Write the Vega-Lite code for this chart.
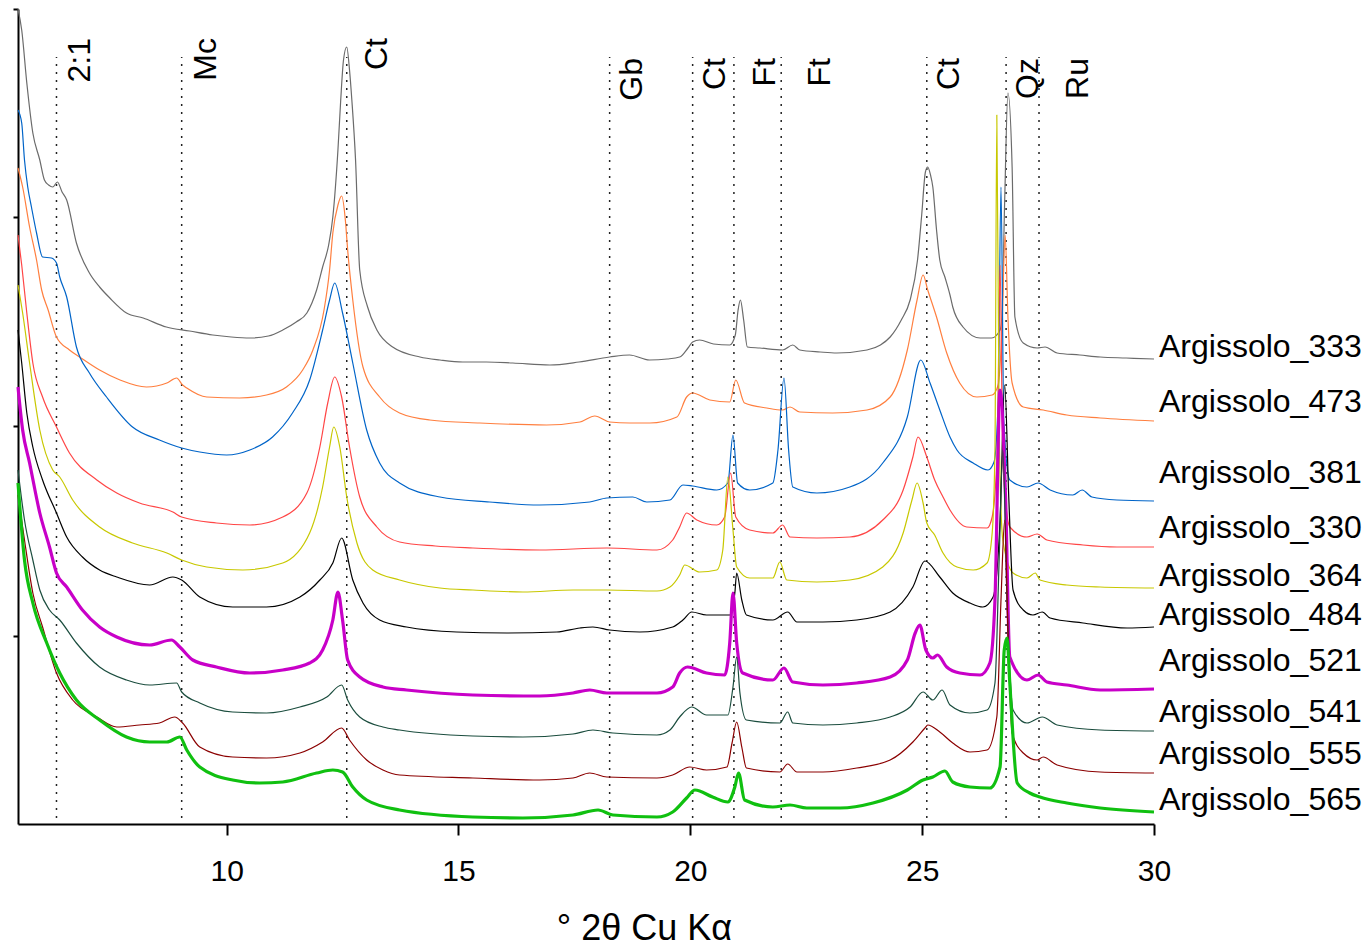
{
"$schema": "https://vega.github.io/schema/vega-lite/v6.json",
"width": 1136, "height": 815,
"autosize": {"type": "none"},
"padding": {"left": 18, "top": 9, "right": 216, "bottom": 124},
"background": "white",
"config": {"view": {"stroke": null}, "font": "Liberation Sans",
  "axis": {"grid": false, "domainColor": "black", "domainWidth": 2, "tickColor": "black", "tickWidth": 2, "labelColor": "black", "labelFont": "Liberation Sans", "titleFont": "Liberation Sans", "titleColor": "black", "titleFontWeight": "normal"},
  "text": {"font": "Liberation Sans", "color": "black"}},
"datasets": {
"peaks": [
{"label":"2:1","x":6.33},{"label":"Mc","x":9.03},{"label":"Ct","x":12.59},{"label":"Gb","x":18.26},{"label":"Ct","x":20.05},{"label":"Ft","x":20.94},{"label":"Ft","x":21.96},{"label":"Ct","x":25.1},{"label":"Qz","x":26.81},{"label":"Ru","x":27.52}
],
"xrd": [
{"s":"Argissolo_333","x":5.5,"y":815},{"s":"Argissolo_333","x":5.58,"y":794},{"s":"Argissolo_333","x":5.69,"y":741},{"s":"Argissolo_333","x":5.82,"y":691},{"s":"Argissolo_333","x":5.97,"y":664},{"s":"Argissolo_333","x":6.07,"y":644},{"s":"Argissolo_333","x":6.16,"y":639},{"s":"Argissolo_333","x":6.25,"y":637},{"s":"Argissolo_333","x":6.35,"y":642},{"s":"Argissolo_333","x":6.45,"y":632},{"s":"Argissolo_333","x":6.55,"y":624},{"s":"Argissolo_333","x":6.76,"y":581},{"s":"Argissolo_333","x":7.04,"y":551},{"s":"Argissolo_333","x":7.26,"y":537},{"s":"Argissolo_333","x":7.48,"y":526},{"s":"Argissolo_333","x":7.84,"y":511},{"s":"Argissolo_333","x":8.2,"y":506},{"s":"Argissolo_333","x":8.7,"y":497},{"s":"Argissolo_333","x":9.2,"y":493},{"s":"Argissolo_333","x":9.7,"y":489},{"s":"Argissolo_333","x":10.1,"y":487},{"s":"Argissolo_333","x":10.5,"y":486},{"s":"Argissolo_333","x":10.9,"y":488},{"s":"Argissolo_333","x":11.21,"y":494},{"s":"Argissolo_333","x":11.5,"y":502},{"s":"Argissolo_333","x":11.73,"y":511},{"s":"Argissolo_333","x":11.94,"y":534},{"s":"Argissolo_333","x":12.07,"y":557},{"s":"Argissolo_333","x":12.2,"y":579},{"s":"Argissolo_333","x":12.29,"y":607},{"s":"Argissolo_333","x":12.4,"y":674},{"s":"Argissolo_333","x":12.46,"y":724},{"s":"Argissolo_333","x":12.52,"y":764},{"s":"Argissolo_333","x":12.59,"y":777},{"s":"Argissolo_333","x":12.65,"y":754},{"s":"Argissolo_333","x":12.7,"y":724},{"s":"Argissolo_333","x":12.78,"y":664},{"s":"Argissolo_333","x":12.87,"y":554},{"s":"Argissolo_333","x":13.04,"y":517},{"s":"Argissolo_333","x":13.24,"y":494},{"s":"Argissolo_333","x":13.58,"y":477},{"s":"Argissolo_333","x":14.17,"y":467},{"s":"Argissolo_333","x":14.6,"y":464},{"s":"Argissolo_333","x":15.09,"y":462},{"s":"Argissolo_333","x":15.6,"y":462},{"s":"Argissolo_333","x":16.17,"y":461},{"s":"Argissolo_333","x":16.97,"y":459},{"s":"Argissolo_333","x":17.6,"y":462},{"s":"Argissolo_333","x":18.26,"y":467},{"s":"Argissolo_333","x":18.69,"y":469},{"s":"Argissolo_333","x":19.12,"y":464},{"s":"Argissolo_333","x":19.5,"y":465},{"s":"Argissolo_333","x":19.77,"y":467},{"s":"Argissolo_333","x":19.95,"y":476},{"s":"Argissolo_333","x":20.05,"y":482},{"s":"Argissolo_333","x":20.2,"y":484},{"s":"Argissolo_333","x":20.5,"y":480},{"s":"Argissolo_333","x":20.85,"y":479},{"s":"Argissolo_333","x":20.97,"y":489},{"s":"Argissolo_333","x":21.03,"y":514},{"s":"Argissolo_333","x":21.08,"y":524},{"s":"Argissolo_333","x":21.15,"y":504},{"s":"Argissolo_333","x":21.23,"y":477},{"s":"Argissolo_333","x":21.5,"y":476},{"s":"Argissolo_333","x":21.99,"y":474},{"s":"Argissolo_333","x":22.21,"y":479},{"s":"Argissolo_333","x":22.36,"y":474},{"s":"Argissolo_333","x":22.8,"y":472},{"s":"Argissolo_333","x":23.16,"y":471},{"s":"Argissolo_333","x":23.81,"y":474},{"s":"Argissolo_333","x":24.1,"y":479},{"s":"Argissolo_333","x":24.31,"y":487},{"s":"Argissolo_333","x":24.55,"y":504},{"s":"Argissolo_333","x":24.74,"y":524},{"s":"Argissolo_333","x":24.9,"y":564},{"s":"Argissolo_333","x":24.99,"y":609},{"s":"Argissolo_333","x":25.07,"y":652},{"s":"Argissolo_333","x":25.12,"y":657},{"s":"Argissolo_333","x":25.18,"y":649},{"s":"Argissolo_333","x":25.23,"y":637},{"s":"Argissolo_333","x":25.31,"y":594},{"s":"Argissolo_333","x":25.38,"y":564},{"s":"Argissolo_333","x":25.49,"y":547},{"s":"Argissolo_333","x":25.6,"y":529},{"s":"Argissolo_333","x":25.66,"y":517},{"s":"Argissolo_333","x":25.88,"y":497},{"s":"Argissolo_333","x":26.25,"y":486},{"s":"Argissolo_333","x":26.5,"y":486},{"s":"Argissolo_333","x":26.68,"y":494},{"s":"Argissolo_333","x":26.72,"y":507},{"s":"Argissolo_333","x":26.78,"y":624},{"s":"Argissolo_333","x":26.85,"y":731},{"s":"Argissolo_333","x":26.94,"y":657},{"s":"Argissolo_333","x":27.0,"y":507},{"s":"Argissolo_333","x":27.18,"y":481},{"s":"Argissolo_333","x":27.48,"y":476},{"s":"Argissolo_333","x":27.65,"y":477},{"s":"Argissolo_333","x":27.91,"y":471},{"s":"Argissolo_333","x":28.4,"y":469},{"s":"Argissolo_333","x":28.84,"y":467},{"s":"Argissolo_333","x":29.4,"y":466},{"s":"Argissolo_333","x":30,"y":465},
{"s":"Argissolo_473","x":5.5,"y":656},{"s":"Argissolo_473","x":5.6,"y":637},{"s":"Argissolo_473","x":5.75,"y":597},{"s":"Argissolo_473","x":5.9,"y":564},{"s":"Argissolo_473","x":6.01,"y":534},{"s":"Argissolo_473","x":6.15,"y":514},{"s":"Argissolo_473","x":6.33,"y":487},{"s":"Argissolo_473","x":6.61,"y":474},{"s":"Argissolo_473","x":6.83,"y":467},{"s":"Argissolo_473","x":7.26,"y":454},{"s":"Argissolo_473","x":7.7,"y":444},{"s":"Argissolo_473","x":8.27,"y":437},{"s":"Argissolo_473","x":8.71,"y":441},{"s":"Argissolo_473","x":8.92,"y":446},{"s":"Argissolo_473","x":9.05,"y":439},{"s":"Argissolo_473","x":9.14,"y":436},{"s":"Argissolo_473","x":9.57,"y":427},{"s":"Argissolo_473","x":10.28,"y":426},{"s":"Argissolo_473","x":10.86,"y":429},{"s":"Argissolo_473","x":11.29,"y":437},{"s":"Argissolo_473","x":11.64,"y":454},{"s":"Argissolo_473","x":11.86,"y":474},{"s":"Argissolo_473","x":12.1,"y":514},{"s":"Argissolo_473","x":12.22,"y":554},{"s":"Argissolo_473","x":12.29,"y":591},{"s":"Argissolo_473","x":12.4,"y":619},{"s":"Argissolo_473","x":12.48,"y":628},{"s":"Argissolo_473","x":12.56,"y":604},{"s":"Argissolo_473","x":12.61,"y":574},{"s":"Argissolo_473","x":12.72,"y":524},{"s":"Argissolo_473","x":12.94,"y":457},{"s":"Argissolo_473","x":13.3,"y":427},{"s":"Argissolo_473","x":13.73,"y":411},{"s":"Argissolo_473","x":14.38,"y":404},{"s":"Argissolo_473","x":15.46,"y":401},{"s":"Argissolo_473","x":16.9,"y":399},{"s":"Argissolo_473","x":17.62,"y":402},{"s":"Argissolo_473","x":17.94,"y":408},{"s":"Argissolo_473","x":18.26,"y":402},{"s":"Argissolo_473","x":18.69,"y":401},{"s":"Argissolo_473","x":19.13,"y":401},{"s":"Argissolo_473","x":19.71,"y":407},{"s":"Argissolo_473","x":19.92,"y":427},{"s":"Argissolo_473","x":20.05,"y":431},{"s":"Argissolo_473","x":20.42,"y":424},{"s":"Argissolo_473","x":20.85,"y":422},{"s":"Argissolo_473","x":20.98,"y":444},{"s":"Argissolo_473","x":21.17,"y":421},{"s":"Argissolo_473","x":21.65,"y":416},{"s":"Argissolo_473","x":21.99,"y":414},{"s":"Argissolo_473","x":22.15,"y":417},{"s":"Argissolo_473","x":22.36,"y":412},{"s":"Argissolo_473","x":23.07,"y":411},{"s":"Argissolo_473","x":23.81,"y":414},{"s":"Argissolo_473","x":24.31,"y":427},{"s":"Argissolo_473","x":24.68,"y":474},{"s":"Argissolo_473","x":24.89,"y":524},{"s":"Argissolo_473","x":25.02,"y":549},{"s":"Argissolo_473","x":25.12,"y":534},{"s":"Argissolo_473","x":25.31,"y":507},{"s":"Argissolo_473","x":25.53,"y":471},{"s":"Argissolo_473","x":25.81,"y":441},{"s":"Argissolo_473","x":26.18,"y":427},{"s":"Argissolo_473","x":26.51,"y":429},{"s":"Argissolo_473","x":26.64,"y":439},{"s":"Argissolo_473","x":26.72,"y":494},{"s":"Argissolo_473","x":26.79,"y":589},{"s":"Argissolo_473","x":26.85,"y":507},{"s":"Argissolo_473","x":26.94,"y":441},{"s":"Argissolo_473","x":27.18,"y":417},{"s":"Argissolo_473","x":27.61,"y":414},{"s":"Argissolo_473","x":28.12,"y":409},{"s":"Argissolo_473","x":28.84,"y":406},{"s":"Argissolo_473","x":30,"y":403},
{"s":"Argissolo_381","x":5.5,"y":714},{"s":"Argissolo_381","x":5.58,"y":701},{"s":"Argissolo_381","x":5.64,"y":664},{"s":"Argissolo_381","x":5.71,"y":637},{"s":"Argissolo_381","x":5.79,"y":617},{"s":"Argissolo_381","x":5.9,"y":591},{"s":"Argissolo_381","x":6.03,"y":567},{"s":"Argissolo_381","x":6.22,"y":566},{"s":"Argissolo_381","x":6.33,"y":561},{"s":"Argissolo_381","x":6.4,"y":547},{"s":"Argissolo_381","x":6.55,"y":527},{"s":"Argissolo_381","x":6.76,"y":477},{"s":"Argissolo_381","x":7.04,"y":451},{"s":"Argissolo_381","x":7.41,"y":427},{"s":"Argissolo_381","x":7.97,"y":397},{"s":"Argissolo_381","x":8.55,"y":384},{"s":"Argissolo_381","x":9.03,"y":376},{"s":"Argissolo_381","x":9.42,"y":372},{"s":"Argissolo_381","x":10.0,"y":369},{"s":"Argissolo_381","x":10.5,"y":374},{"s":"Argissolo_381","x":10.99,"y":387},{"s":"Argissolo_381","x":11.42,"y":411},{"s":"Argissolo_381","x":11.79,"y":444},{"s":"Argissolo_381","x":12.07,"y":494},{"s":"Argissolo_381","x":12.22,"y":524},{"s":"Argissolo_381","x":12.33,"y":541},{"s":"Argissolo_381","x":12.5,"y":511},{"s":"Argissolo_381","x":12.72,"y":461},{"s":"Argissolo_381","x":13.02,"y":394},{"s":"Argissolo_381","x":13.3,"y":361},{"s":"Argissolo_381","x":13.73,"y":341},{"s":"Argissolo_381","x":14.6,"y":327},{"s":"Argissolo_381","x":15.67,"y":322},{"s":"Argissolo_381","x":16.75,"y":319},{"s":"Argissolo_381","x":17.83,"y":322},{"s":"Argissolo_381","x":18.2,"y":326},{"s":"Argissolo_381","x":18.76,"y":327},{"s":"Argissolo_381","x":19.06,"y":322},{"s":"Argissolo_381","x":19.56,"y":324},{"s":"Argissolo_381","x":19.84,"y":339},{"s":"Argissolo_381","x":20.05,"y":338},{"s":"Argissolo_381","x":20.57,"y":334},{"s":"Argissolo_381","x":20.81,"y":341},{"s":"Argissolo_381","x":20.92,"y":389},{"s":"Argissolo_381","x":21.02,"y":341},{"s":"Argissolo_381","x":21.28,"y":334},{"s":"Argissolo_381","x":21.78,"y":341},{"s":"Argissolo_381","x":21.89,"y":374},{"s":"Argissolo_381","x":22.02,"y":446},{"s":"Argissolo_381","x":22.12,"y":374},{"s":"Argissolo_381","x":22.21,"y":337},{"s":"Argissolo_381","x":22.73,"y":331},{"s":"Argissolo_381","x":23.44,"y":337},{"s":"Argissolo_381","x":24.15,"y":361},{"s":"Argissolo_381","x":24.68,"y":407},{"s":"Argissolo_381","x":24.97,"y":464},{"s":"Argissolo_381","x":25.17,"y":441},{"s":"Argissolo_381","x":25.38,"y":414},{"s":"Argissolo_381","x":25.6,"y":387},{"s":"Argissolo_381","x":25.75,"y":374},{"s":"Argissolo_381","x":26.1,"y":361},{"s":"Argissolo_381","x":26.42,"y":354},{"s":"Argissolo_381","x":26.55,"y":362},{"s":"Argissolo_381","x":26.64,"y":424},{"s":"Argissolo_381","x":26.7,"y":637},{"s":"Argissolo_381","x":26.76,"y":404},{"s":"Argissolo_381","x":26.89,"y":344},{"s":"Argissolo_381","x":27.26,"y":337},{"s":"Argissolo_381","x":27.5,"y":341},{"s":"Argissolo_381","x":27.76,"y":334},{"s":"Argissolo_381","x":28.25,"y":329},{"s":"Argissolo_381","x":28.45,"y":334},{"s":"Argissolo_381","x":28.66,"y":327},{"s":"Argissolo_381","x":29.2,"y":324},{"s":"Argissolo_381","x":30,"y":323},
{"s":"Argissolo_330","x":5.5,"y":589},{"s":"Argissolo_330","x":5.58,"y":559},{"s":"Argissolo_330","x":5.69,"y":511},{"s":"Argissolo_330","x":5.82,"y":461},{"s":"Argissolo_330","x":6.03,"y":427},{"s":"Argissolo_330","x":6.33,"y":397},{"s":"Argissolo_330","x":6.61,"y":371},{"s":"Argissolo_330","x":7.2,"y":344},{"s":"Argissolo_330","x":7.63,"y":331},{"s":"Argissolo_330","x":8.12,"y":321},{"s":"Argissolo_330","x":8.84,"y":312},{"s":"Argissolo_330","x":9.03,"y":307},{"s":"Argissolo_330","x":9.78,"y":301},{"s":"Argissolo_330","x":10.5,"y":299},{"s":"Argissolo_330","x":11.21,"y":307},{"s":"Argissolo_330","x":11.73,"y":331},{"s":"Argissolo_330","x":12.01,"y":377},{"s":"Argissolo_330","x":12.18,"y":421},{"s":"Argissolo_330","x":12.33,"y":447},{"s":"Argissolo_330","x":12.48,"y":427},{"s":"Argissolo_330","x":12.65,"y":377},{"s":"Argissolo_330","x":12.87,"y":327},{"s":"Argissolo_330","x":13.24,"y":297},{"s":"Argissolo_330","x":13.73,"y":282},{"s":"Argissolo_330","x":14.5,"y":278},{"s":"Argissolo_330","x":15.31,"y":276},{"s":"Argissolo_330","x":16.75,"y":274},{"s":"Argissolo_330","x":18.2,"y":276},{"s":"Argissolo_330","x":19.28,"y":274},{"s":"Argissolo_330","x":19.62,"y":284},{"s":"Argissolo_330","x":19.77,"y":297},{"s":"Argissolo_330","x":19.92,"y":311},{"s":"Argissolo_330","x":20.14,"y":304},{"s":"Argissolo_330","x":20.57,"y":299},{"s":"Argissolo_330","x":20.74,"y":307},{"s":"Argissolo_330","x":20.87,"y":351},{"s":"Argissolo_330","x":20.98,"y":307},{"s":"Argissolo_330","x":21.28,"y":294},{"s":"Argissolo_330","x":21.78,"y":291},{"s":"Argissolo_330","x":21.99,"y":299},{"s":"Argissolo_330","x":22.15,"y":287},{"s":"Argissolo_330","x":22.73,"y":286},{"s":"Argissolo_330","x":23.44,"y":287},{"s":"Argissolo_330","x":24.15,"y":304},{"s":"Argissolo_330","x":24.59,"y":334},{"s":"Argissolo_330","x":24.8,"y":367},{"s":"Argissolo_330","x":24.91,"y":387},{"s":"Argissolo_330","x":25.1,"y":367},{"s":"Argissolo_330","x":25.27,"y":344},{"s":"Argissolo_330","x":25.45,"y":327},{"s":"Argissolo_330","x":25.6,"y":314},{"s":"Argissolo_330","x":25.96,"y":297},{"s":"Argissolo_330","x":26.4,"y":296},{"s":"Argissolo_330","x":26.51,"y":307},{"s":"Argissolo_330","x":26.62,"y":374},{"s":"Argissolo_330","x":26.68,"y":559},{"s":"Argissolo_330","x":26.74,"y":364},{"s":"Argissolo_330","x":26.89,"y":297},{"s":"Argissolo_330","x":27.26,"y":287},{"s":"Argissolo_330","x":27.48,"y":290},{"s":"Argissolo_330","x":27.69,"y":284},{"s":"Argissolo_330","x":28.47,"y":279},{"s":"Argissolo_330","x":29.2,"y":277},{"s":"Argissolo_330","x":30,"y":277},
{"s":"Argissolo_364","x":5.5,"y":539},{"s":"Argissolo_364","x":5.6,"y":511},{"s":"Argissolo_364","x":5.75,"y":461},{"s":"Argissolo_364","x":5.97,"y":394},{"s":"Argissolo_364","x":6.25,"y":354},{"s":"Argissolo_364","x":6.4,"y":347},{"s":"Argissolo_364","x":6.68,"y":324},{"s":"Argissolo_364","x":7.26,"y":297},{"s":"Argissolo_364","x":7.97,"y":281},{"s":"Argissolo_364","x":8.71,"y":271},{"s":"Argissolo_364","x":9.03,"y":264},{"s":"Argissolo_364","x":9.57,"y":257},{"s":"Argissolo_364","x":10.35,"y":254},{"s":"Argissolo_364","x":11.21,"y":261},{"s":"Argissolo_364","x":11.79,"y":291},{"s":"Argissolo_364","x":12.07,"y":337},{"s":"Argissolo_364","x":12.22,"y":377},{"s":"Argissolo_364","x":12.31,"y":397},{"s":"Argissolo_364","x":12.44,"y":377},{"s":"Argissolo_364","x":12.59,"y":327},{"s":"Argissolo_364","x":12.81,"y":281},{"s":"Argissolo_364","x":13.15,"y":254},{"s":"Argissolo_364","x":13.73,"y":244},{"s":"Argissolo_364","x":14.6,"y":236},{"s":"Argissolo_364","x":15.31,"y":234},{"s":"Argissolo_364","x":16.39,"y":232},{"s":"Argissolo_364","x":17.47,"y":234},{"s":"Argissolo_364","x":18.2,"y":234},{"s":"Argissolo_364","x":19.28,"y":233},{"s":"Argissolo_364","x":19.56,"y":237},{"s":"Argissolo_364","x":19.77,"y":249},{"s":"Argissolo_364","x":19.88,"y":259},{"s":"Argissolo_364","x":20.2,"y":252},{"s":"Argissolo_364","x":20.57,"y":254},{"s":"Argissolo_364","x":20.7,"y":274},{"s":"Argissolo_364","x":20.81,"y":347},{"s":"Argissolo_364","x":20.92,"y":294},{"s":"Argissolo_364","x":21.0,"y":257},{"s":"Argissolo_364","x":21.28,"y":246},{"s":"Argissolo_364","x":21.78,"y":246},{"s":"Argissolo_364","x":21.93,"y":262},{"s":"Argissolo_364","x":22.08,"y":244},{"s":"Argissolo_364","x":22.73,"y":242},{"s":"Argissolo_364","x":23.44,"y":244},{"s":"Argissolo_364","x":24.15,"y":257},{"s":"Argissolo_364","x":24.59,"y":291},{"s":"Argissolo_364","x":24.78,"y":324},{"s":"Argissolo_364","x":24.89,"y":341},{"s":"Argissolo_364","x":25.02,"y":321},{"s":"Argissolo_364","x":25.1,"y":301},{"s":"Argissolo_364","x":25.27,"y":289},{"s":"Argissolo_364","x":25.45,"y":271},{"s":"Argissolo_364","x":25.75,"y":257},{"s":"Argissolo_364","x":26.1,"y":254},{"s":"Argissolo_364","x":26.4,"y":261},{"s":"Argissolo_364","x":26.51,"y":291},{"s":"Argissolo_364","x":26.57,"y":374},{"s":"Argissolo_364","x":26.61,"y":709},{"s":"Argissolo_364","x":26.66,"y":394},{"s":"Argissolo_364","x":26.74,"y":284},{"s":"Argissolo_364","x":26.96,"y":251},{"s":"Argissolo_364","x":27.26,"y":246},{"s":"Argissolo_364","x":27.44,"y":251},{"s":"Argissolo_364","x":27.54,"y":244},{"s":"Argissolo_364","x":28.12,"y":239},{"s":"Argissolo_364","x":28.84,"y":237},{"s":"Argissolo_364","x":30,"y":236},
{"s":"Argissolo_484","x":5.5,"y":494},{"s":"Argissolo_484","x":5.58,"y":461},{"s":"Argissolo_484","x":5.69,"y":411},{"s":"Argissolo_484","x":5.82,"y":377},{"s":"Argissolo_484","x":6.03,"y":344},{"s":"Argissolo_484","x":6.33,"y":311},{"s":"Argissolo_484","x":6.55,"y":287},{"s":"Argissolo_484","x":6.89,"y":267},{"s":"Argissolo_484","x":7.26,"y":254},{"s":"Argissolo_484","x":7.63,"y":247},{"s":"Argissolo_484","x":8.34,"y":239},{"s":"Argissolo_484","x":8.84,"y":247},{"s":"Argissolo_484","x":9.03,"y":244},{"s":"Argissolo_484","x":9.42,"y":227},{"s":"Argissolo_484","x":10.13,"y":217},{"s":"Argissolo_484","x":10.86,"y":217},{"s":"Argissolo_484","x":11.58,"y":227},{"s":"Argissolo_484","x":12.01,"y":244},{"s":"Argissolo_484","x":12.29,"y":261},{"s":"Argissolo_484","x":12.48,"y":286},{"s":"Argissolo_484","x":12.72,"y":244},{"s":"Argissolo_484","x":12.94,"y":221},{"s":"Argissolo_484","x":13.3,"y":204},{"s":"Argissolo_484","x":13.88,"y":197},{"s":"Argissolo_484","x":14.96,"y":192},{"s":"Argissolo_484","x":16.04,"y":191},{"s":"Argissolo_484","x":17.12,"y":192},{"s":"Argissolo_484","x":17.62,"y":196},{"s":"Argissolo_484","x":17.9,"y":197},{"s":"Argissolo_484","x":18.26,"y":194},{"s":"Argissolo_484","x":18.91,"y":192},{"s":"Argissolo_484","x":19.62,"y":197},{"s":"Argissolo_484","x":19.84,"y":204},{"s":"Argissolo_484","x":20.03,"y":212},{"s":"Argissolo_484","x":20.35,"y":209},{"s":"Argissolo_484","x":20.85,"y":209},{"s":"Argissolo_484","x":20.96,"y":231},{"s":"Argissolo_484","x":21.0,"y":251},{"s":"Argissolo_484","x":21.11,"y":224},{"s":"Argissolo_484","x":21.21,"y":209},{"s":"Argissolo_484","x":21.78,"y":204},{"s":"Argissolo_484","x":22.1,"y":212},{"s":"Argissolo_484","x":22.3,"y":202},{"s":"Argissolo_484","x":22.86,"y":202},{"s":"Argissolo_484","x":23.59,"y":204},{"s":"Argissolo_484","x":24.31,"y":212},{"s":"Argissolo_484","x":24.8,"y":237},{"s":"Argissolo_484","x":25.06,"y":263},{"s":"Argissolo_484","x":25.38,"y":247},{"s":"Argissolo_484","x":25.66,"y":231},{"s":"Argissolo_484","x":26.03,"y":221},{"s":"Argissolo_484","x":26.31,"y":217},{"s":"Argissolo_484","x":26.53,"y":227},{"s":"Argissolo_484","x":26.68,"y":304},{"s":"Argissolo_484","x":26.78,"y":439},{"s":"Argissolo_484","x":26.87,"y":324},{"s":"Argissolo_484","x":26.96,"y":234},{"s":"Argissolo_484","x":27.18,"y":214},{"s":"Argissolo_484","x":27.39,"y":209},{"s":"Argissolo_484","x":27.59,"y":212},{"s":"Argissolo_484","x":27.76,"y":206},{"s":"Argissolo_484","x":28.47,"y":201},{"s":"Argissolo_484","x":29.42,"y":196},{"s":"Argissolo_484","x":30,"y":197},
{"s":"Argissolo_521","x":5.5,"y":437},{"s":"Argissolo_521","x":5.6,"y":394},{"s":"Argissolo_521","x":5.75,"y":361},{"s":"Argissolo_521","x":5.97,"y":311},{"s":"Argissolo_521","x":6.18,"y":277},{"s":"Argissolo_521","x":6.33,"y":251},{"s":"Argissolo_521","x":6.55,"y":237},{"s":"Argissolo_521","x":6.89,"y":214},{"s":"Argissolo_521","x":7.26,"y":197},{"s":"Argissolo_521","x":7.63,"y":187},{"s":"Argissolo_521","x":8.34,"y":179},{"s":"Argissolo_521","x":8.81,"y":184},{"s":"Argissolo_521","x":8.99,"y":177},{"s":"Argissolo_521","x":9.27,"y":164},{"s":"Argissolo_521","x":9.78,"y":157},{"s":"Argissolo_521","x":10.5,"y":151},{"s":"Argissolo_521","x":11.21,"y":154},{"s":"Argissolo_521","x":11.79,"y":161},{"s":"Argissolo_521","x":12.07,"y":174},{"s":"Argissolo_521","x":12.29,"y":204},{"s":"Argissolo_521","x":12.4,"y":232},{"s":"Argissolo_521","x":12.5,"y":204},{"s":"Argissolo_521","x":12.61,"y":164},{"s":"Argissolo_521","x":12.87,"y":147},{"s":"Argissolo_521","x":13.37,"y":137},{"s":"Argissolo_521","x":13.88,"y":134},{"s":"Argissolo_521","x":15.31,"y":129},{"s":"Argissolo_521","x":16.75,"y":128},{"s":"Argissolo_521","x":17.47,"y":131},{"s":"Argissolo_521","x":17.83,"y":134},{"s":"Argissolo_521","x":18.2,"y":131},{"s":"Argissolo_521","x":19.28,"y":131},{"s":"Argissolo_521","x":19.62,"y":137},{"s":"Argissolo_521","x":19.77,"y":151},{"s":"Argissolo_521","x":19.94,"y":157},{"s":"Argissolo_521","x":20.35,"y":151},{"s":"Argissolo_521","x":20.74,"y":149},{"s":"Argissolo_521","x":20.85,"y":181},{"s":"Argissolo_521","x":20.92,"y":231},{"s":"Argissolo_521","x":21.0,"y":181},{"s":"Argissolo_521","x":21.13,"y":151},{"s":"Argissolo_521","x":21.78,"y":144},{"s":"Argissolo_521","x":22.02,"y":156},{"s":"Argissolo_521","x":22.21,"y":142},{"s":"Argissolo_521","x":22.86,"y":139},{"s":"Argissolo_521","x":23.59,"y":141},{"s":"Argissolo_521","x":24.31,"y":147},{"s":"Argissolo_521","x":24.68,"y":164},{"s":"Argissolo_521","x":24.85,"y":191},{"s":"Argissolo_521","x":24.95,"y":199},{"s":"Argissolo_521","x":25.08,"y":174},{"s":"Argissolo_521","x":25.23,"y":166},{"s":"Argissolo_521","x":25.33,"y":169},{"s":"Argissolo_521","x":25.53,"y":157},{"s":"Argissolo_521","x":25.81,"y":151},{"s":"Argissolo_521","x":26.25,"y":149},{"s":"Argissolo_521","x":26.46,"y":161},{"s":"Argissolo_521","x":26.57,"y":224},{"s":"Argissolo_521","x":26.68,"y":434},{"s":"Argissolo_521","x":26.8,"y":324},{"s":"Argissolo_521","x":26.89,"y":167},{"s":"Argissolo_521","x":27.26,"y":144},{"s":"Argissolo_521","x":27.5,"y":149},{"s":"Argissolo_521","x":27.69,"y":142},{"s":"Argissolo_521","x":28.12,"y":139},{"s":"Argissolo_521","x":28.84,"y":134},{"s":"Argissolo_521","x":30,"y":135},
{"s":"Argissolo_541","x":5.5,"y":354},{"s":"Argissolo_541","x":5.64,"y":304},{"s":"Argissolo_541","x":5.82,"y":264},{"s":"Argissolo_541","x":5.97,"y":234},{"s":"Argissolo_541","x":6.18,"y":214},{"s":"Argissolo_541","x":6.4,"y":204},{"s":"Argissolo_541","x":6.76,"y":181},{"s":"Argissolo_541","x":7.26,"y":157},{"s":"Argissolo_541","x":7.84,"y":144},{"s":"Argissolo_541","x":8.34,"y":139},{"s":"Argissolo_541","x":8.92,"y":141},{"s":"Argissolo_541","x":9.03,"y":132},{"s":"Argissolo_541","x":9.42,"y":121},{"s":"Argissolo_541","x":10.13,"y":112},{"s":"Argissolo_541","x":10.86,"y":111},{"s":"Argissolo_541","x":11.58,"y":117},{"s":"Argissolo_541","x":12.16,"y":127},{"s":"Argissolo_541","x":12.48,"y":139},{"s":"Argissolo_541","x":12.61,"y":124},{"s":"Argissolo_541","x":12.87,"y":107},{"s":"Argissolo_541","x":13.37,"y":97},{"s":"Argissolo_541","x":13.73,"y":94},{"s":"Argissolo_541","x":15.31,"y":88},{"s":"Argissolo_541","x":16.39,"y":87},{"s":"Argissolo_541","x":17.47,"y":90},{"s":"Argissolo_541","x":17.9,"y":94},{"s":"Argissolo_541","x":18.33,"y":91},{"s":"Argissolo_541","x":19.28,"y":89},{"s":"Argissolo_541","x":19.56,"y":94},{"s":"Argissolo_541","x":19.77,"y":107},{"s":"Argissolo_541","x":20.03,"y":117},{"s":"Argissolo_541","x":20.35,"y":109},{"s":"Argissolo_541","x":20.81,"y":109},{"s":"Argissolo_541","x":20.92,"y":137},{"s":"Argissolo_541","x":21.0,"y":167},{"s":"Argissolo_541","x":21.07,"y":131},{"s":"Argissolo_541","x":21.21,"y":104},{"s":"Argissolo_541","x":21.93,"y":101},{"s":"Argissolo_541","x":22.1,"y":112},{"s":"Argissolo_541","x":22.21,"y":101},{"s":"Argissolo_541","x":22.86,"y":99},{"s":"Argissolo_541","x":23.59,"y":101},{"s":"Argissolo_541","x":24.31,"y":107},{"s":"Argissolo_541","x":24.74,"y":117},{"s":"Argissolo_541","x":25.02,"y":132},{"s":"Argissolo_541","x":25.23,"y":124},{"s":"Argissolo_541","x":25.43,"y":134},{"s":"Argissolo_541","x":25.6,"y":119},{"s":"Argissolo_541","x":26.03,"y":111},{"s":"Argissolo_541","x":26.4,"y":114},{"s":"Argissolo_541","x":26.57,"y":141},{"s":"Argissolo_541","x":26.66,"y":264},{"s":"Argissolo_541","x":26.74,"y":374},{"s":"Argissolo_541","x":26.83,"y":224},{"s":"Argissolo_541","x":26.96,"y":114},{"s":"Argissolo_541","x":27.26,"y":101},{"s":"Argissolo_541","x":27.59,"y":107},{"s":"Argissolo_541","x":27.91,"y":99},{"s":"Argissolo_541","x":28.84,"y":94},{"s":"Argissolo_541","x":30,"y":93},
{"s":"Argissolo_555","x":5.5,"y":329},{"s":"Argissolo_555","x":5.64,"y":284},{"s":"Argissolo_555","x":5.82,"y":231},{"s":"Argissolo_555","x":6.03,"y":197},{"s":"Argissolo_555","x":6.33,"y":151},{"s":"Argissolo_555","x":6.68,"y":124},{"s":"Argissolo_555","x":7.2,"y":107},{"s":"Argissolo_555","x":7.63,"y":97},{"s":"Argissolo_555","x":8.12,"y":99},{"s":"Argissolo_555","x":8.55,"y":101},{"s":"Argissolo_555","x":8.88,"y":107},{"s":"Argissolo_555","x":9.05,"y":101},{"s":"Argissolo_555","x":9.42,"y":77},{"s":"Argissolo_555","x":10.13,"y":67},{"s":"Argissolo_555","x":10.86,"y":66},{"s":"Argissolo_555","x":11.58,"y":71},{"s":"Argissolo_555","x":12.07,"y":82},{"s":"Argissolo_555","x":12.48,"y":96},{"s":"Argissolo_555","x":12.65,"y":84},{"s":"Argissolo_555","x":13.02,"y":64},{"s":"Argissolo_555","x":13.37,"y":54},{"s":"Argissolo_555","x":13.73,"y":49},{"s":"Argissolo_555","x":15.31,"y":46},{"s":"Argissolo_555","x":16.75,"y":44},{"s":"Argissolo_555","x":17.47,"y":46},{"s":"Argissolo_555","x":17.83,"y":51},{"s":"Argissolo_555","x":18.2,"y":47},{"s":"Argissolo_555","x":19.28,"y":46},{"s":"Argissolo_555","x":19.62,"y":49},{"s":"Argissolo_555","x":19.99,"y":57},{"s":"Argissolo_555","x":20.35,"y":54},{"s":"Argissolo_555","x":20.79,"y":57},{"s":"Argissolo_555","x":20.9,"y":81},{"s":"Argissolo_555","x":21.0,"y":102},{"s":"Argissolo_555","x":21.11,"y":77},{"s":"Argissolo_555","x":21.21,"y":56},{"s":"Argissolo_555","x":21.93,"y":52},{"s":"Argissolo_555","x":22.1,"y":60},{"s":"Argissolo_555","x":22.3,"y":52},{"s":"Argissolo_555","x":22.86,"y":52},{"s":"Argissolo_555","x":23.59,"y":56},{"s":"Argissolo_555","x":24.31,"y":64},{"s":"Argissolo_555","x":24.8,"y":82},{"s":"Argissolo_555","x":25.06,"y":96},{"s":"Argissolo_555","x":25.12,"y":99},{"s":"Argissolo_555","x":25.38,"y":92},{"s":"Argissolo_555","x":25.66,"y":81},{"s":"Argissolo_555","x":26.03,"y":72},{"s":"Argissolo_555","x":26.4,"y":74},{"s":"Argissolo_555","x":26.61,"y":107},{"s":"Argissolo_555","x":26.7,"y":224},{"s":"Argissolo_555","x":26.78,"y":304},{"s":"Argissolo_555","x":26.86,"y":174},{"s":"Argissolo_555","x":26.94,"y":91},{"s":"Argissolo_555","x":27.18,"y":71},{"s":"Argissolo_555","x":27.48,"y":64},{"s":"Argissolo_555","x":27.61,"y":67},{"s":"Argissolo_555","x":27.91,"y":59},{"s":"Argissolo_555","x":28.84,"y":52},{"s":"Argissolo_555","x":30,"y":51},
{"s":"Argissolo_565","x":5.5,"y":341},{"s":"Argissolo_565","x":5.64,"y":264},{"s":"Argissolo_565","x":5.82,"y":221},{"s":"Argissolo_565","x":6.12,"y":181},{"s":"Argissolo_565","x":6.4,"y":151},{"s":"Argissolo_565","x":6.76,"y":124},{"s":"Argissolo_565","x":7.26,"y":104},{"s":"Argissolo_565","x":7.84,"y":87},{"s":"Argissolo_565","x":8.34,"y":82},{"s":"Argissolo_565","x":8.71,"y":82},{"s":"Argissolo_565","x":8.99,"y":87},{"s":"Argissolo_565","x":9.14,"y":74},{"s":"Argissolo_565","x":9.42,"y":57},{"s":"Argissolo_565","x":10.13,"y":44},{"s":"Argissolo_565","x":10.71,"y":41},{"s":"Argissolo_565","x":11.21,"y":42},{"s":"Argissolo_565","x":11.94,"y":51},{"s":"Argissolo_565","x":12.29,"y":54},{"s":"Argissolo_565","x":12.5,"y":52},{"s":"Argissolo_565","x":12.72,"y":37},{"s":"Argissolo_565","x":13.02,"y":24},{"s":"Argissolo_565","x":13.73,"y":14},{"s":"Argissolo_565","x":15.31,"y":7},{"s":"Argissolo_565","x":16.39,"y":6},{"s":"Argissolo_565","x":17.47,"y":9},{"s":"Argissolo_565","x":18.01,"y":14},{"s":"Argissolo_565","x":18.33,"y":9},{"s":"Argissolo_565","x":19.28,"y":7},{"s":"Argissolo_565","x":19.62,"y":12},{"s":"Argissolo_565","x":19.92,"y":26},{"s":"Argissolo_565","x":20.1,"y":34},{"s":"Argissolo_565","x":20.48,"y":27},{"s":"Argissolo_565","x":20.81,"y":22},{"s":"Argissolo_565","x":20.96,"y":37},{"s":"Argissolo_565","x":21.04,"y":51},{"s":"Argissolo_565","x":21.17,"y":24},{"s":"Argissolo_565","x":21.78,"y":17},{"s":"Argissolo_565","x":22.15,"y":19},{"s":"Argissolo_565","x":22.51,"y":16},{"s":"Argissolo_565","x":23.23,"y":16},{"s":"Argissolo_565","x":23.94,"y":21},{"s":"Argissolo_565","x":24.68,"y":34},{"s":"Argissolo_565","x":25.02,"y":44},{"s":"Argissolo_565","x":25.23,"y":47},{"s":"Argissolo_565","x":25.49,"y":53},{"s":"Argissolo_565","x":25.66,"y":42},{"s":"Argissolo_565","x":26.03,"y":37},{"s":"Argissolo_565","x":26.46,"y":36},{"s":"Argissolo_565","x":26.68,"y":57},{"s":"Argissolo_565","x":26.77,"y":174},{"s":"Argissolo_565","x":26.83,"y":186},{"s":"Argissolo_565","x":26.89,"y":141},{"s":"Argissolo_565","x":27.05,"y":41},{"s":"Argissolo_565","x":27.32,"y":31},{"s":"Argissolo_565","x":27.54,"y":27},{"s":"Argissolo_565","x":28.12,"y":21},{"s":"Argissolo_565","x":28.84,"y":16},{"s":"Argissolo_565","x":30,"y":12}
]
},
"data": {"name": "xrd"},
"encoding": {
  "x": {"field": "x", "type": "quantitative", "scale": {"domain": [5.5, 30], "nice": false, "zero": false},
    "axis": {"values": [10, 15, 20, 25, 30], "tickSize": 11, "labelFontSize": 30, "labelPadding": 21, "title": "° 2θ Cu Kα", "titleFontSize": 36, "titleX": 626, "titleY": 115, "titleBaseline": "alphabetic", "titleAlign": "center", "labelFlush": false}}
},
"layer": [
  {"data": {"name": "peaks"},
   "mark": {"type": "rule", "strokeDash": [2, 6], "color": "#222222", "strokeWidth": 1.5},
   "encoding": {"y": {"datum": 6, "type": "quantitative", "scale": {"domain": [0, 815], "nice": false, "zero": false}}, "y2": {"datum": 767}}},
  {"data": {"name": "peaks"},
   "transform": [{"filter": "datum.x < 11"}],
   "mark": {"type": "text", "angle": 270, "align": "right", "baseline": "middle", "dy": 24, "fontSize": 32},
   "encoding": {"text": {"field": "label"}, "y": {"datum": 786, "type": "quantitative"}}},
  {"data": {"name": "peaks"},
   "transform": [{"filter": "datum.x > 11 && datum.x < 13"}],
   "mark": {"type": "text", "angle": 270, "align": "right", "baseline": "middle", "dy": 30, "fontSize": 32},
   "encoding": {"text": {"field": "label"}, "y": {"datum": 786, "type": "quantitative"}}},
  {"data": {"name": "peaks"},
   "transform": [{"filter": "datum.x > 13 && (datum.label == 'Gb' || datum.label == 'Ct' || datum.label == 'Qz')"}],
   "mark": {"type": "text", "angle": 270, "align": "right", "baseline": "middle", "dy": 22, "fontSize": 32},
   "encoding": {"text": {"field": "label"}, "y": {"datum": 766, "type": "quantitative"}}},
  {"data": {"name": "peaks"},
   "transform": [{"filter": "datum.label == 'Ft' && datum.x < 21.5"}],
   "mark": {"type": "text", "angle": 270, "align": "right", "baseline": "middle", "dy": 31, "fontSize": 32},
   "encoding": {"text": {"field": "label"}, "y": {"datum": 766, "type": "quantitative"}}},
  {"data": {"name": "peaks"},
   "transform": [{"filter": "(datum.label == 'Ft' && datum.x > 21.5) || datum.label == 'Ru'"}],
   "mark": {"type": "text", "angle": 270, "align": "right", "baseline": "middle", "dy": 39, "fontSize": 32},
   "encoding": {"text": {"field": "label"}, "y": {"datum": 766, "type": "quantitative"}}},
  {"mark": {"type": "line", "strokeJoin": "round", "clip": false, "interpolate": "monotone"},
   "encoding": {
     "y": {"field": "y", "type": "quantitative", "scale": {"domain": [0, 815], "nice": false, "zero": false},
       "axis": {"values": [188, 398, 607, 815], "labels": false, "title": null, "tickSize": 5}},
     "color": {"field": "s", "type": "nominal", "legend": null,
       "scale": {"domain": ["Argissolo_333","Argissolo_473","Argissolo_381","Argissolo_330","Argissolo_364","Argissolo_484","Argissolo_521","Argissolo_541","Argissolo_555","Argissolo_565"],
                 "range": ["#6B6B6B","#FF7F3F","#0064C8","#FF4646","#C8C800","#000000","#C800C8","#1B4D3E","#8B0000","#10C010"]}},
     "strokeWidth": {"condition": {"test": "datum.s === 'Argissolo_521' || datum.s === 'Argissolo_565'", "value": 3.2}, "value": 1.2}
   }},
  {"transform": [{"filter": "datum.x == 30 && (datum.s == 'Argissolo_333' || datum.s == 'Argissolo_364' || datum.s == 'Argissolo_484' || datum.s == 'Argissolo_565')"}],
   "mark": {"type": "text", "align": "left", "baseline": "middle", "dx": 5, "dy": -12, "fontSize": 32},
   "encoding": {"text": {"field": "s"}, "y": {"field": "y", "type": "quantitative"}}},
  {"transform": [{"filter": "datum.x == 30 && (datum.s == 'Argissolo_473' || datum.s == 'Argissolo_330' || datum.s == 'Argissolo_541' || datum.s == 'Argissolo_555')"}],
   "mark": {"type": "text", "align": "left", "baseline": "middle", "dx": 5, "dy": -19, "fontSize": 32},
   "encoding": {"text": {"field": "s"}, "y": {"field": "y", "type": "quantitative"}}},
  {"transform": [{"filter": "datum.x == 30 && (datum.s == 'Argissolo_381' || datum.s == 'Argissolo_521')"}],
   "mark": {"type": "text", "align": "left", "baseline": "middle", "dx": 5, "dy": -28, "fontSize": 32},
   "encoding": {"text": {"field": "s"}, "y": {"field": "y", "type": "quantitative"}}}
]
}
